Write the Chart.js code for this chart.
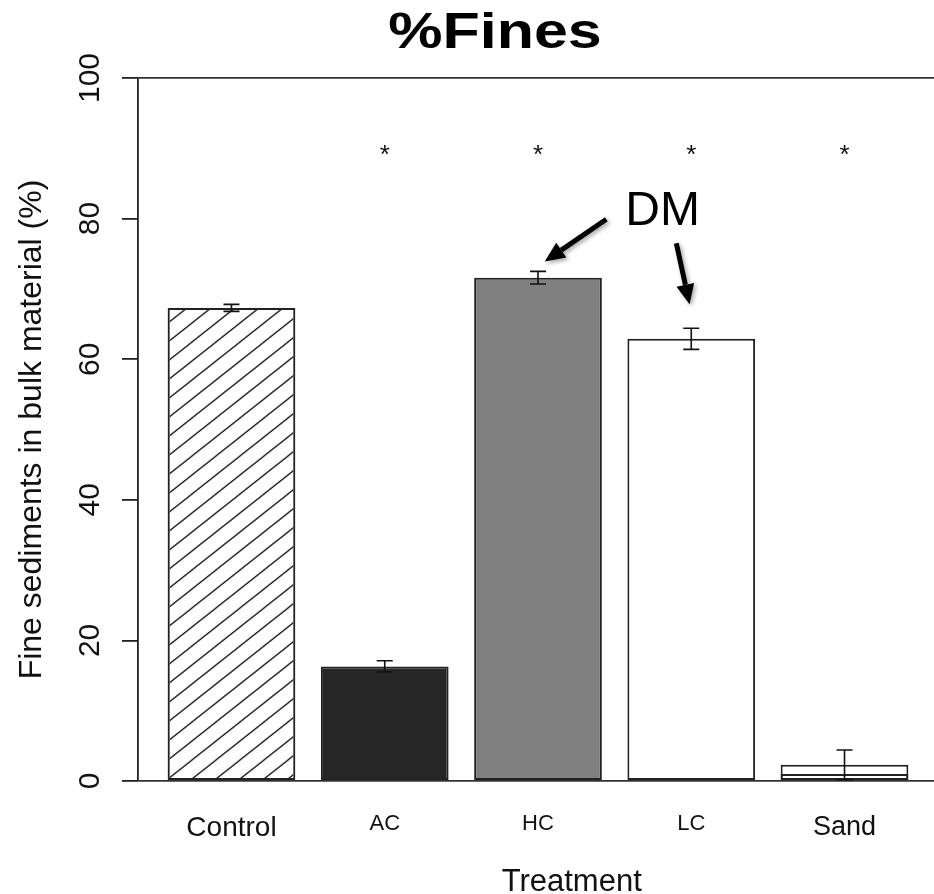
<!DOCTYPE html>
<html>
<head>
<meta charset="utf-8">
<script src="https://cdn.jsdelivr.net/npm/chart.js@4.4.1/dist/chart.umd.min.js"></script>
<style>
  html, body { margin: 0; padding: 0; background: #fff; overflow: hidden; }
  #wrap { width: 934px; height: 894px; overflow: hidden; }
</style>
</head>
<body>
<div id="wrap"><canvas id="finesChart" width="938" height="894"></canvas></div>
<script>
// data
const categories = ["Control", "AC", "HC", "LC", "Sand"];
const meanFines = [67.3, 16.3, 71.6, 62.9, 2.3];
const seFines = [0.5, 0.8, 0.9, 1.5, 2.1];
const sandInner = [null, null, null, null, 1.0];
const starred = ["AC", "HC", "LC", "Sand"];
const starLevel = 90;
const yTicks = [0, 20, 40, 60, 80, 100];

const FONT = '"Liberation Sans", Arial, sans-serif';
const INK = '#111';
const tickSizes = [28, 22, 22, 22, 27];

// barplot layout: width 1, space 0.2
const barMid = i => 0.7 + 1.2 * i;
const toPoints = arr => arr.map((v, i) => ({ x: barMid(i), y: v })).filter(p => p.y !== null);

function makeHatch() {
    const tile = document.createElement("canvas");
    tile.width = 24;
    tile.height = 19;
    const t = tile.getContext("2d");
    t.strokeStyle = "#2a2a2a";
    t.lineWidth = 1.4;
    for (let k = -1; k <= 1; k++) {
        t.beginPath();
        t.moveTo(24 * k - 24, 38);
        t.lineTo(24 * k + 48, -19);
        t.stroke();
    }
    return t.createPattern(tile, "repeat");
}

function arrow(ctx, x0, y0, x1, y1) {
    const ang = Math.atan2(y1 - y0, x1 - x0);
    const head = 20, half = 9;
    const bx = x1 - head * Math.cos(ang), by = y1 - head * Math.sin(ang);
    ctx.beginPath();
    ctx.moveTo(x0, y0);
    ctx.lineTo(bx, by);
    ctx.stroke();
    ctx.beginPath();
    ctx.moveTo(x1, y1);
    ctx.lineTo(bx + half * Math.sin(ang), by - half * Math.cos(ang));
    ctx.lineTo(bx - half * Math.sin(ang), by + half * Math.cos(ang));
    ctx.closePath();
    ctx.fill();
}

// annotation positions in data units
const dmLabel = { x: 4.076, y: 81 };
const dmArrows = [
    { from: [3.635, 79.9], to: [3.153, 73.9] },
    { from: [4.183, 76.5], to: [4.287, 67.8] }
];

const annotate = {
    id: "annotate",
    afterDatasetsDraw(chart) {
        const { ctx, scales: { x, y } } = chart;
        const meta = chart.getDatasetMeta(0);
        const capHalf = 8;

        ctx.save();
        ctx.strokeStyle = INK;
        ctx.lineWidth = 1.6;
        meta.data.forEach((bar, i) => {
            const top = y.getPixelForValue(meanFines[i] + seFines[i]);
            const bot = y.getPixelForValue(meanFines[i] - seFines[i]);
            ctx.beginPath();
            ctx.moveTo(bar.x, top); ctx.lineTo(bar.x, bot);
            ctx.moveTo(bar.x - capHalf, top); ctx.lineTo(bar.x + capHalf, top);
            ctx.moveTo(bar.x - capHalf, bot); ctx.lineTo(bar.x + capHalf, bot);
            ctx.stroke();
        });

        // significance stars
        ctx.fillStyle = INK;
        ctx.font = "26px " + FONT;
        ctx.textAlign = "center";
        ctx.textBaseline = "alphabetic";
        starred.forEach(c => {
            const i = categories.indexOf(c);
            ctx.fillText("*", x.getPixelForValue(barMid(i)), y.getPixelForValue(starLevel) + 26 * 0.575);
        });

        // DM callout
        ctx.fillStyle = "#000";
        ctx.font = "48px " + FONT;
        ctx.textBaseline = "middle";
        ctx.fillText("DM", x.getPixelForValue(dmLabel.x), y.getPixelForValue(dmLabel.y));

        ctx.save();
        ctx.strokeStyle = "#000";
        ctx.fillStyle = "#000";
        ctx.lineWidth = 5;
        ctx.shadowColor = "rgba(0,0,0,0.35)";
        ctx.shadowBlur = 4;
        ctx.shadowOffsetX = 2;
        ctx.shadowOffsetY = 2;
        dmArrows.forEach(a => {
            arrow(ctx,
                x.getPixelForValue(a.from[0]), y.getPixelForValue(a.from[1]),
                x.getPixelForValue(a.to[0]), y.getPixelForValue(a.to[1]));
        });
        ctx.restore();

        // x axis title
        ctx.fillStyle = INK;
        ctx.font = "31px " + FONT;
        ctx.textBaseline = "alphabetic";
        ctx.fillText("Treatment", x.getPixelForValue(3.364), chart.chartArea.bottom + 110);

        // main title, drawn a little wide like the original
        ctx.fillStyle = "#000";
        ctx.font = "bold 50px " + FONT;
        ctx.translate(495, 48);
        ctx.scale(1.22, 1);
        ctx.fillText("%Fines", 0, 0);
        ctx.restore();
    }
};

const barStyle = {
    borderColor: "#222",
    borderWidth: 2,
    borderSkipped: false,
    barPercentage: 1,
    categoryPercentage: 1 / 1.2,
    grouped: false
};

new Chart(document.getElementById("finesChart"), {
    type: "bar",
    data: {
        datasets: [
            Object.assign({
                label: "%Fines",
                data: toPoints(meanFines),
                backgroundColor: [makeHatch(), "#262626", "#808080", "#ffffff", "#ffffff"],
                order: 1
            }, barStyle),
            Object.assign({
                label: "Sand inner",
                data: toPoints(sandInner),
                backgroundColor: "rgba(0,0,0,0)",
                order: 0
            }, barStyle)
        ]
    },
    options: {
        responsive: false,
        animation: false,
        layout: { padding: { top: 78, left: 0, right: 0, bottom: 0 } },
        plugins: {
            legend: { display: false },
            tooltip: { enabled: false },
            title: { display: false }
        },
        scales: {
            x: {
                type: "linear",
                offset: false,
                min: -0.032,
                max: 6.232,
                afterBuildTicks: axis => { axis.ticks = categories.map((c, i) => ({ value: barMid(i) })); },
                afterFit: axis => { axis.height = 113; },
                grid: { display: false, drawTicks: false },
                border: { display: false },
                ticks: {
                    autoSkip: false,
                    maxRotation: 0,
                    padding: 30,
                    color: INK,
                    font: ctx => ({ family: FONT, size: tickSizes[ctx.index] || 22 }),
                    callback: (v, i) => categories[i]
                }
            },
            y: {
                min: 0,
                max: 100,
                afterBuildTicks: axis => { axis.ticks = yTicks.map(v => ({ value: v })); },
                afterFit: axis => { axis.width = 138; },
                border: { display: true, color: "#222", width: 1.8 },
                grid: {
                    color: ctx => (ctx.tick && (ctx.tick.value === 0 || ctx.tick.value === 100)) ? "#333" : "rgba(0,0,0,0)",
                    lineWidth: 1.8,
                    tickColor: "#222",
                    tickLength: 16
                },
                ticks: {
                    minRotation: 90,
                    maxRotation: 90,
                    crossAlign: "center",
                    padding: 6,
                    color: INK,
                    font: { family: FONT, size: 30 }
                },
                title: {
                    display: true,
                    text: "Fine sediments in bulk material (%)",
                    color: INK,
                    font: { family: FONT, size: 32 },
                    padding: { top: 13, bottom: 0 }
                }
            }
        }
    },
    plugins: [annotate]
});
</script>
</body>
</html>
